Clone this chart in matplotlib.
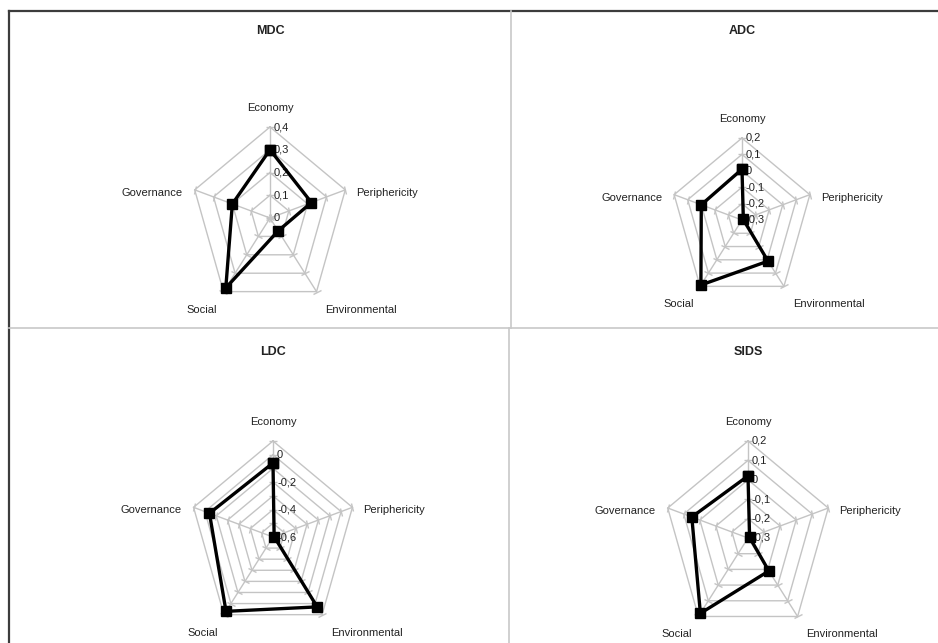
import numpy as np
import matplotlib
matplotlib.use("Agg")
import matplotlib.pyplot as plt
from matplotlib.lines import Line2D
from matplotlib.markers import MarkerStyle
from matplotlib.transforms import Affine2D

plt.rcParams['font.family'] = ['Liberation Sans Narrow', 'Liberation Sans', 'DejaVu Sans']

categories = ["Economy", "Periphericity", "Environmental", "Social", "Governance"]

# one score per category, in the order above
mdc_values = [0.30, 0.22, 0.07, 0.38, 0.20]
adc_values = [0.01, -0.29, 0.01, 0.19, 0.00]
ldc_values = [-0.06, -0.59, 0.03, 0.07, -0.04]
sids_values = [0.02, -0.29, -0.09, 0.18, 0.05]

# value axis: min, max, step, and which ticks get a label
mdc_axis = (0.0, 0.4, 0.1)
adc_axis = (-0.3, 0.2, 0.1)
ldc_axis = (-0.6, 0.1, 0.1)
sids_axis = (-0.3, 0.2, 0.1)
mdc_labels = [0.0, 0.1, 0.2, 0.3, 0.4]
adc_labels = [-0.3, -0.2, -0.1, 0.0, 0.1, 0.2]
ldc_labels = [-0.6, -0.4, -0.2, 0.0]
sids_labels = [-0.3, -0.2, -0.1, 0.0, 0.1, 0.2]

W, H = 938, 643
GRID = "#c4c4c4"
fig = plt.figure(figsize=(W / 100, H / 100), dpi=100)


def fmt(v):
    s = f"{v:.1f}".replace(".", ",")
    if s in ("0,0", "-0,0"):
        s = "0"
    return s


def radar(cx, cy, R, title, values, axis, labels):
    vmin, vmax, step = axis
    rx = R * 0.87
    hw, hh = 200, 140
    ax = fig.add_axes([(cx - hw) / W, 1 - (cy + hh) / H, 2 * hw / W, 2 * hh / H])
    ax.set_xlim(-hw / rx, hw / rx)
    ax.set_ylim(-hh / R, hh / R)
    ax.axis("off")

    n = len(categories)
    theta = np.arange(n) * 2 * np.pi / n
    sx, sy = np.sin(theta), np.cos(theta)
    levels = np.arange(vmin, vmax + step / 2, step)
    norm = lambda v: (np.asarray(v) - vmin) / (vmax - vmin)

    # pentagon gridlines
    for v in levels[1:]:
        r = norm(v)
        ax.plot(np.append(sx, sx[0]) * r, np.append(sy, sy[0]) * r, color=GRID, lw=1, zorder=1)

    # spokes with small cross ticks at each level
    for i in range(n):
        ax.plot([0, sx[i]], [0, sy[i]], color=GRID, lw=1, zorder=1)
        ang = np.degrees(np.arctan2(sy[i] * R, sx[i] * rx)) + 90
        tick = MarkerStyle("_", transform=Affine2D().rotate_deg(ang))
        r = norm(levels)
        ax.plot(sx[i] * r, sy[i] * r, ls="none", marker=tick, ms=6, mew=1, color=GRID, zorder=1)

    # value labels along the Economy spoke
    for v in labels:
        ax.annotate(fmt(v), (0, norm(v)), xytext=(4, 0), textcoords="offset pixels",
                    ha="left", va="center", fontsize=8, color="#222222")

    # category labels
    offsets = [((0, 19), "center"), ((11, -3), "left"), ((9, -18), "left"),
               ((-6, -18), "right"), ((-12, -3), "right")]
    for i, (name, (off, ha)) in enumerate(zip(categories, offsets)):
        ax.annotate(name, (sx[i], sy[i]), xytext=off, textcoords="offset pixels",
                    ha=ha, va="center", fontsize=8, color="#222222")

    r = norm(values)
    px = np.append(sx * r, sx[0] * r[0])
    py = np.append(sy * r, sy[0] * r[0])
    ax.plot(px, py, color="black", lw=2.4, marker="s", ms=6.5, zorder=3)

    fig.text(cx / W, 1 - title_y[title] / H, title, ha="center", va="center",
             fontsize=9, fontweight="bold", color="#222222")


title_y = {"MDC": 31, "ADC": 31, "LDC": 352, "SIDS": 352}

radar(270, 218, 91, "MDC", mdc_values, mdc_axis, mdc_labels)
radar(742, 220, 82, "ADC", adc_values, adc_axis, adc_labels)
radar(273, 537, 96, "LDC", ldc_values, ldc_axis, ldc_labels)
radar(748, 538, 97, "SIDS", sids_values, sids_axis, sids_labels)

# outer frame (left and top) and panel dividers
px2x = lambda x: x / W
px2y = lambda y: 1 - y / H
fig.add_artist(Line2D([px2x(9), px2x(9)], [0, px2y(11)], color="#3c3c3c", lw=1.6))
fig.add_artist(Line2D([px2x(9), 1], [px2y(11), px2y(11)], color="#3c3c3c", lw=1.6))
fig.add_artist(Line2D([px2x(9), 1], [px2y(328), px2y(328)], color="#c8c8c8", lw=1.2))
fig.add_artist(Line2D([px2x(511), px2x(511)], [px2y(11), px2y(328)], color="#c8c8c8", lw=1.2))
fig.add_artist(Line2D([px2x(509), px2x(509)], [px2y(328), 0], color="#c8c8c8", lw=1.2))

fig.savefig("out.png", dpi=100)
